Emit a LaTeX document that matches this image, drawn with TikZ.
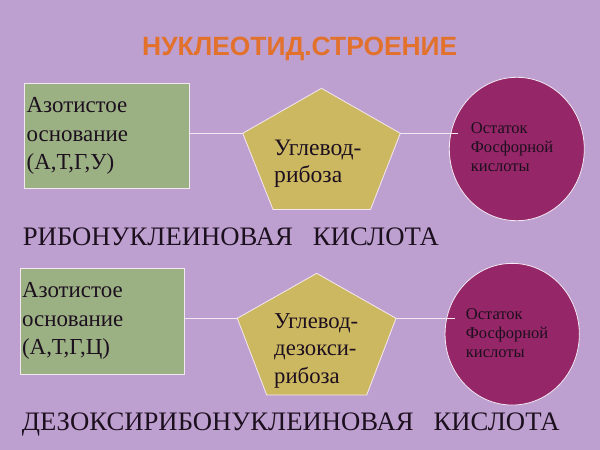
\documentclass[tikz,border=0pt]{standalone}
\usepackage{fontspec}
\setmainfont{LiberationSerif}[Extension=.ttf, UprightFont=*-Regular, BoldFont=*-Bold, ItalicFont=*-Italic, BoldItalicFont=*-BoldItalic]
\newfontfamily\titlefont{Liberation Sans}
\usetikzlibrary{shapes.geometric}
\definecolor{bg}{HTML}{BEA0D0}
\definecolor{boxgreen}{HTML}{9BB083}
\definecolor{pent}{HTML}{CDB862}
\definecolor{phos}{HTML}{952667}
\definecolor{ink}{HTML}{1C0F1E}
\definecolor{titleor}{HTML}{E2712C}
\definecolor{edge}{HTML}{F2E8F2}
\begin{document}
\begin{tikzpicture}[x=1pt,y=-1pt,
  basebox/.style={draw=edge, line width=0.8pt, fill=boxgreen, anchor=north west, align=left,
    font=\fontsize{22.9}{28.4}\selectfont, text=ink, inner ysep=0pt},
  sugar/.style={draw=edge, line width=0.8pt, fill=pent},
  phosph/.style={ellipse, draw=edge, line width=0.8pt, fill=phos, inner sep=0pt},
  link/.style={draw=edge, line width=1.3pt},
  bigtxt/.style={font=\fontsize{22.7}{27.5}\selectfont, text=ink, align=left, anchor=north west, inner sep=0pt},
  smalltxt/.style={font=\fontsize{16.5}{19.2}\selectfont, text=ink, align=left, anchor=north west, inner sep=0pt},
  acid/.style={font=\fontsize{26.7}{30}\selectfont, text=ink, anchor=base west, inner sep=0pt}]
\fill[bg] (0,0) rectangle (600,450);
\useasboundingbox (0,0) rectangle (600,450);

% title
\node[anchor=base west, inner sep=0pt, font=\titlefont\bfseries\fontsize{26.4}{30}\selectfont, text=titleor] (title) at (142,55) {НУКЛЕОТИД.СТРОЕНИЕ};

% ---- row 1 (RNA)
\node[basebox, minimum width=165pt, minimum height=105.6pt, text width=161pt, inner xsep=2pt] (r1) at (24.3,82.7)
  {Азотистое\\основание\\(А,Т,Г,У)};
\coordinate (p1t) at (321.5,88.3);
\coordinate (p1l) at (242.7,133.3);
\coordinate (p1r) at (400.3,133.3);
\coordinate (p1br) at (370.5,209.5);
\coordinate (p1bl) at (273,209.5);
\filldraw[sugar] (p1t) -- (p1r) -- (p1br) -- (p1bl) -- (p1l) -- cycle;
\node[bigtxt, font=\fontsize{23.6}{27.5}\selectfont] (s1) at (274,139.5) {Углевод-\\рибоза};
\node[phosph, minimum width=135pt, minimum height=143.4pt] (e1) at (516.8,149) {};
\node[smalltxt] (f1) at (470.7,122.4) {Остаток\\Фосфорной\\кислоты};
\coordinate (e1a) at (458.3,133.3);
\draw[link] (r1.east |- p1l) -- (p1l);
\draw[link] (p1r) -- (e1a);
\node[acid] (rna) at (22.7,245) {РИБОНУКЛЕИНОВАЯ\ \ \ КИСЛОТА};

% ---- row 2 (DNA)
\node[basebox, minimum width=164.3pt, minimum height=106.3pt, text width=160.9pt, inner xsep=1.7pt] (r2) at (20,267.7)
  {Азотистое\\основание\\(А,Т,Г,Ц)};
\coordinate (p2t) at (316.7,273.3);
\coordinate (p2l) at (237.3,318.3);
\coordinate (p2r) at (396,318.3);
\coordinate (p2br) at (366.7,395);
\coordinate (p2bl) at (266.7,395);
\filldraw[sugar] (p2t) -- (p2r) -- (p2br) -- (p2bl) -- (p2l) -- cycle;
\node[bigtxt] (s2) at (274,313.3) {Углевод-\\дезокси-\\рибоза};
\node[phosph, minimum width=134.3pt, minimum height=141.7pt] (e2) at (512.2,334.2) {};
\node[smalltxt] (f2) at (465.7,308.4) {Остаток\\Фосфорной\\кислоты};
\coordinate (e2a) at (455,318.3);
\draw[link] (r2.east |- p2l) -- (p2l);
\draw[link] (p2r) -- (e2a);
\node[acid] (dna) at (21.7,430) {ДЕЗОКСИРИБОНУКЛЕИНОВАЯ\ \ \ КИСЛОТА};
\end{tikzpicture}
\end{document}
